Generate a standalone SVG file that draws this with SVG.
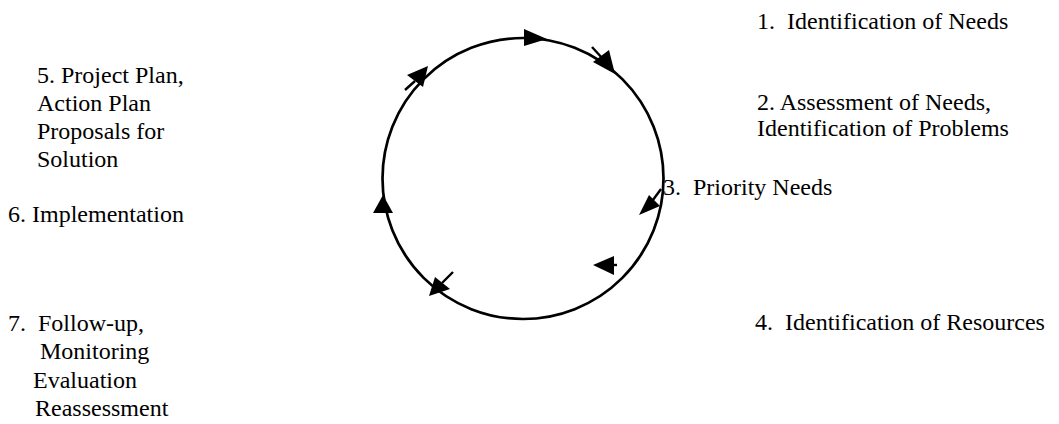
<svg xmlns="http://www.w3.org/2000/svg" width="1059" height="424" viewBox="0 0 1059 424">
<style>
  .t { font-size: 24px; fill: #000; white-space: pre; }
  .ring { fill: none; stroke: #000; stroke-width: 2.7; }
  .shaft { fill: none; stroke: #000; stroke-width: 2.4; stroke-linecap: butt; }
  .head { fill: #000; stroke: none; }
</style>
<rect width="1059" height="424" fill="#fff"/>
<g id="connectors">
  <circle class="ring" cx="523" cy="178.5" r="140.5"/>
  <polygon class="head" points="524,29 547,39 524,46"/>
  <line class="shaft" x1="592" y1="47" x2="603" y2="59"/>
  <polygon class="head" points="593,62 609,50 615,74"/>
  <line class="shaft" x1="661" y1="189" x2="650" y2="204"/>
  <polygon class="head" points="649,195 660,206 639,215"/>
  <line class="shaft" x1="612" y1="265" x2="617" y2="265"/>
  <polygon class="head" points="593,265 614,256 614,275"/>
  <line class="shaft" x1="453" y1="272" x2="442" y2="283"/>
  <polygon class="head" points="435,277 450,289 429,296"/>
  <polygon class="head" points="383,195 373,213 393,213"/>
  <line class="shaft" x1="405" y1="90" x2="415" y2="81"/>
  <polygon class="head" points="407,75 423,87 428,66"/>
</g>
<g font-family="'Liberation Serif', 'DejaVu Serif', serif">
<g id="node1"><text class="t" x="757" y="29">1.  Identification of Needs</text></g>
<g id="node2">
  <text class="t" x="757" y="110">2. Assessment of Needs,</text>
  <text class="t" x="757" y="136">Identification of Problems</text>
</g>
<g id="node3"><text class="t" x="663" y="195">3.  Priority Needs</text></g>
<g id="node4"><text class="t" x="755" y="330">4.  Identification of Resources</text></g>
<g id="node5">
  <text class="t" x="37" y="83">5. Project Plan,</text>
  <text class="t" x="37" y="111">Action Plan</text>
  <text class="t" x="37" y="139">Proposals for</text>
  <text class="t" x="37" y="167">Solution</text>
</g>
<g id="node6"><text class="t" x="8" y="222">6. Implementation</text></g>
<g id="node7">
  <text class="t" x="8" y="331">7.  Follow-up,</text>
  <text class="t" x="40" y="359">Monitoring</text>
  <text class="t" x="33" y="388">Evaluation</text>
  <text class="t" x="35" y="416">Reassessment</text>
</g>
</g>
</svg>
